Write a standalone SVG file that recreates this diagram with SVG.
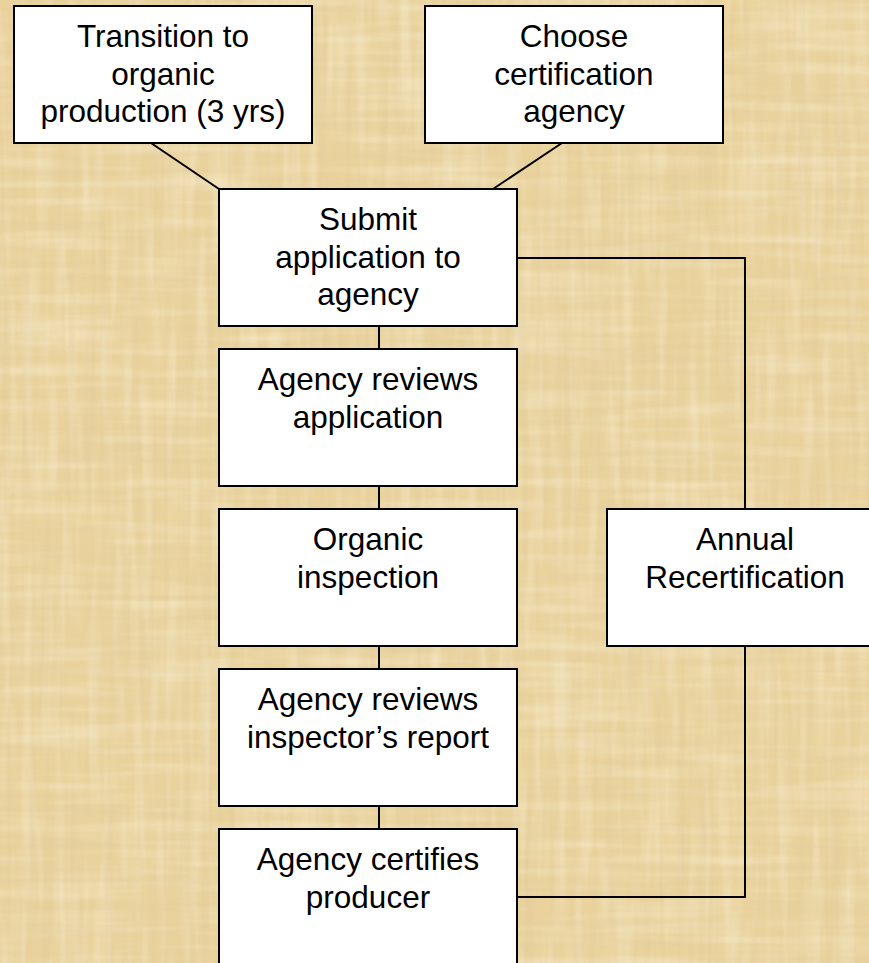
<svg xmlns="http://www.w3.org/2000/svg" width="869" height="963" viewBox="0 0 869 963">
  <defs>
    <style>
      .box { fill: #ffffff; stroke: #000000; stroke-width: 2; }
      .lbl { font-family: "Liberation Sans", Arial, sans-serif; font-size: 31.5px; fill: #000000; text-anchor: middle; }
      .conn { fill: none; stroke: #000000; stroke-width: 2; }
    </style>
    <filter id="fibV" x="0" y="0" width="869" height="963" filterUnits="userSpaceOnUse">
      <feTurbulence type="fractalNoise" baseFrequency="0.14 0.004" numOctaves="2" seed="3"/>
      <feColorMatrix type="matrix" values="0 0 0 0 0.74  0 0 0 0 0.58  0 0 0 0 0.33  1.6 0 0 0 -0.72"/>
    </filter>
    <filter id="fibH" x="0" y="0" width="869" height="963" filterUnits="userSpaceOnUse">
      <feTurbulence type="fractalNoise" baseFrequency="0.004 0.14" numOctaves="2" seed="7"/>
      <feColorMatrix type="matrix" values="0 0 0 0 0.75  0 0 0 0 0.60  0 0 0 0 0.34  1.6 0 0 0 -0.74"/>
    </filter>
    <filter id="fibLV" x="0" y="0" width="869" height="963" filterUnits="userSpaceOnUse">
      <feTurbulence type="fractalNoise" baseFrequency="0.09 0.008" numOctaves="2" seed="21"/>
      <feColorMatrix type="matrix" values="0 0 0 0 0.97  0 0 0 0 0.90  0 0 0 0 0.72  1.5 0 0 0 -0.66"/>
    </filter>
    <filter id="fibLH" x="0" y="0" width="869" height="963" filterUnits="userSpaceOnUse">
      <feTurbulence type="fractalNoise" baseFrequency="0.008 0.09" numOctaves="2" seed="33"/>
      <feColorMatrix type="matrix" values="0 0 0 0 0.97  0 0 0 0 0.90  0 0 0 0 0.72  1.5 0 0 0 -0.66"/>
    </filter>
  </defs>

  <g id="background">
    <rect x="0" y="0" width="869" height="963" fill="#E9D29C"/>
    <rect x="0" y="0" width="869" height="963" filter="url(#fibLV)" opacity="0.6"/>
    <rect x="0" y="0" width="869" height="963" filter="url(#fibLH)" opacity="0.6"/>
    <rect x="0" y="0" width="869" height="963" filter="url(#fibV)" opacity="0.55"/>
    <rect x="0" y="0" width="869" height="963" filter="url(#fibH)" opacity="0.55"/>
  </g>

  <g id="connectors">
    <line class="conn" x1="151" y1="143" x2="219" y2="189"/>
    <line class="conn" x1="562" y1="143" x2="493" y2="189"/>
    <line class="conn" x1="379" y1="326" x2="379" y2="349"/>
    <line class="conn" x1="379" y1="486" x2="379" y2="509"/>
    <line class="conn" x1="379" y1="646" x2="379" y2="669"/>
    <line class="conn" x1="379" y1="806" x2="379" y2="829"/>
    <path class="conn" d="M517 258 H745 V509"/>
    <path class="conn" d="M745 646 V897 H517"/>
  </g>

  <g id="transition">
    <rect class="box" x="14" y="6" width="298" height="137"/>
    <text class="lbl" x="163" y="47">Transition to</text>
    <text class="lbl" x="163" y="84.5">organic</text>
    <text class="lbl" x="163" y="122">production (3 yrs)</text>
  </g>

  <g id="choose">
    <rect class="box" x="425" y="6" width="298" height="137"/>
    <text class="lbl" x="574" y="47">Choose</text>
    <text class="lbl" x="574" y="84.5">certification</text>
    <text class="lbl" x="574" y="122">agency</text>
  </g>

  <g id="submit">
    <rect class="box" x="219" y="189" width="298" height="137"/>
    <text class="lbl" x="368" y="230">Submit</text>
    <text class="lbl" x="368" y="267.5">application to</text>
    <text class="lbl" x="368" y="305">agency</text>
  </g>

  <g id="reviews-application">
    <rect class="box" x="219" y="349" width="298" height="137"/>
    <text class="lbl" x="368" y="390">Agency reviews</text>
    <text class="lbl" x="368" y="427.5">application</text>
  </g>

  <g id="inspection">
    <rect class="box" x="219" y="509" width="298" height="137"/>
    <text class="lbl" x="368" y="550">Organic</text>
    <text class="lbl" x="368" y="587.5">inspection</text>
  </g>

  <g id="reviews-report">
    <rect class="box" x="219" y="669" width="298" height="137"/>
    <text class="lbl" x="368" y="710">Agency reviews</text>
    <text class="lbl" x="368" y="747.5">inspector’s report</text>
  </g>

  <g id="certifies">
    <rect class="box" x="219" y="829" width="298" height="137"/>
    <text class="lbl" x="368" y="870">Agency certifies</text>
    <text class="lbl" x="368" y="907.5">producer</text>
  </g>

  <g id="recertification">
    <rect class="box" x="607" y="509" width="276" height="137"/>
    <text class="lbl" x="745" y="550">Annual</text>
    <text class="lbl" x="745" y="587.5">Recertification</text>
  </g>
</svg>
